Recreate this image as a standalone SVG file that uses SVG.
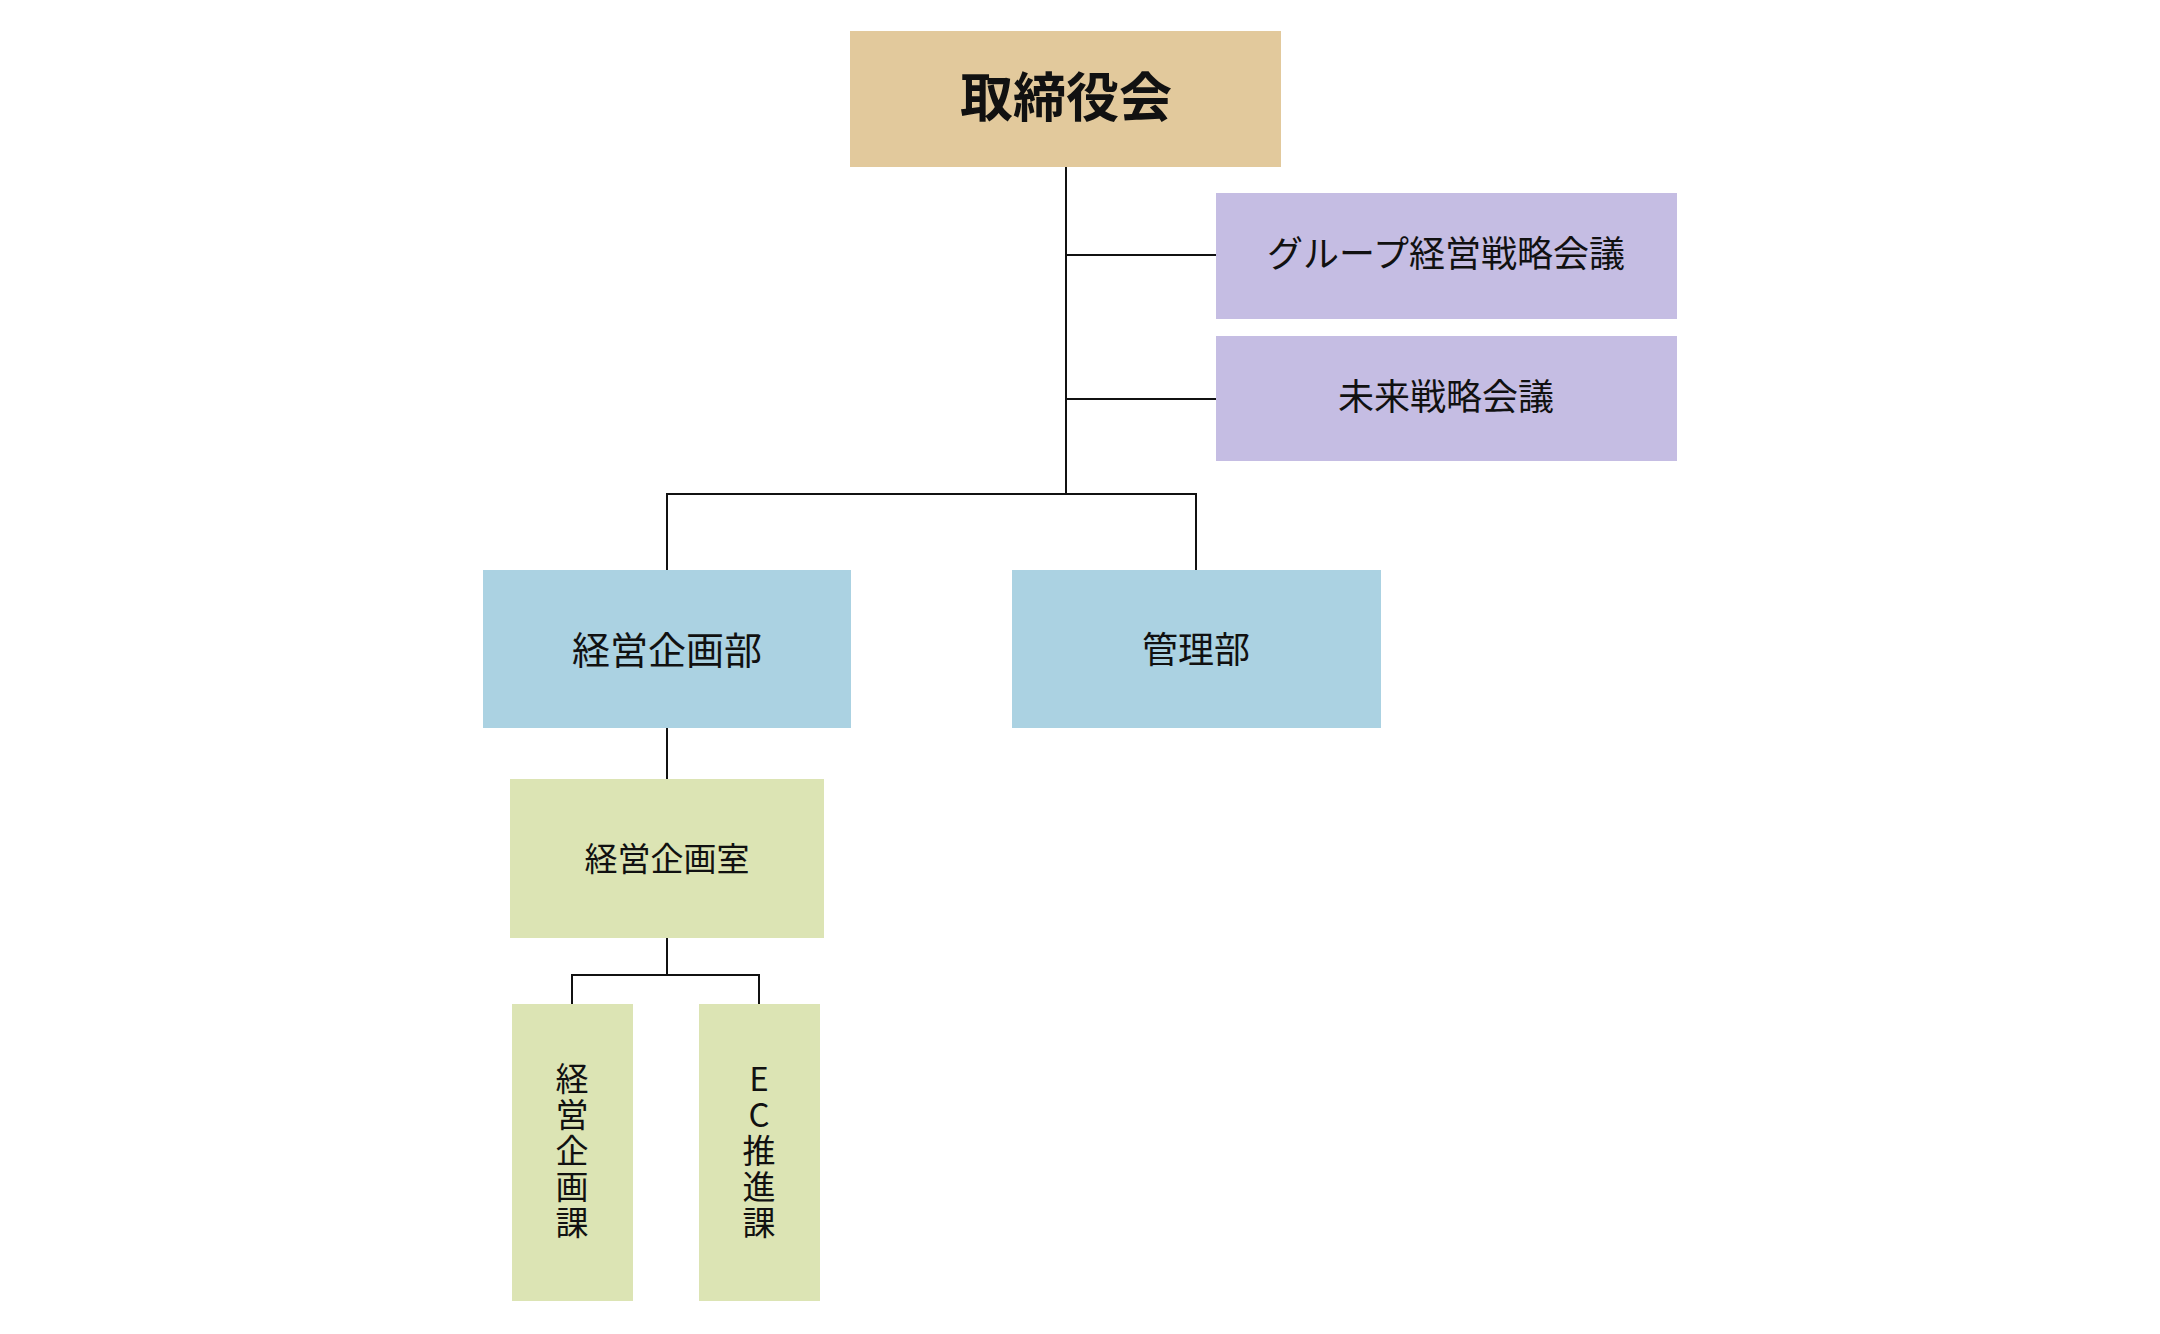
<svg xmlns="http://www.w3.org/2000/svg" width="2160" height="1334" viewBox="0 0 2160 1334">
<style>
text{font-family:"Noto Sans CJK JP","Noto Sans",sans-serif;fill:#111;text-anchor:middle;dominant-baseline:central}
.v{writing-mode:vertical-rl;text-orientation:upright;letter-spacing:3px}
.tan{fill:#E2C99C}.pur{fill:#C5BDE3}.blu{fill:#ABD2E2}.grn{fill:#DCE4B4}
.c{fill:none;stroke:#111;stroke-width:2}
</style>
<rect width="2160" height="1334" fill="#fff"/>
<g id="connectors">
<path class="c" d="M1066 167V494"/>
<path class="c" d="M1066 255H1216"/>
<path class="c" d="M1066 399H1216"/>
<path class="c" d="M667 570V494H1196V570"/>
<path class="c" d="M667 728V779"/>
<path class="c" d="M667 938V975"/>
<path class="c" d="M572 1004V975H759V1004"/>
</g>
<g id="n_board"><rect class="tan" x="850" y="31" width="431" height="136"/><text x="1066" y="94" font-size="53" font-weight="bold">取締役会</text></g>
<g id="n_group"><rect class="pur" x="1216" y="193" width="461" height="126"/><text x="1446" y="251" font-size="36">グループ経営戦略会議</text></g>
<g id="n_future"><rect class="pur" x="1216" y="336" width="461" height="125"/><text x="1446" y="394" font-size="36">未来戦略会議</text></g>
<g id="n_keiei_bu"><rect class="blu" x="483" y="570" width="368" height="158"/><text x="667" y="647" font-size="38">経営企画部</text></g>
<g id="n_kanri"><rect class="blu" x="1012" y="570" width="369" height="158"/><text x="1196" y="647" font-size="36">管理部</text></g>
<g id="n_keiei_shitsu"><rect class="grn" x="510" y="779" width="314" height="159"/><text x="667" y="857" font-size="33">経営企画室</text></g>
<g id="n_keiei_ka"><rect class="grn" x="512" y="1004" width="121" height="297"/>
<text class="v" x="572" y="1152" font-size="33">経営企画課</text></g>
<g id="n_ec"><rect class="grn" x="699" y="1004" width="121" height="297"/>
<text class="v" x="759" y="1152" font-size="33">EC推進課</text></g>
</svg>
